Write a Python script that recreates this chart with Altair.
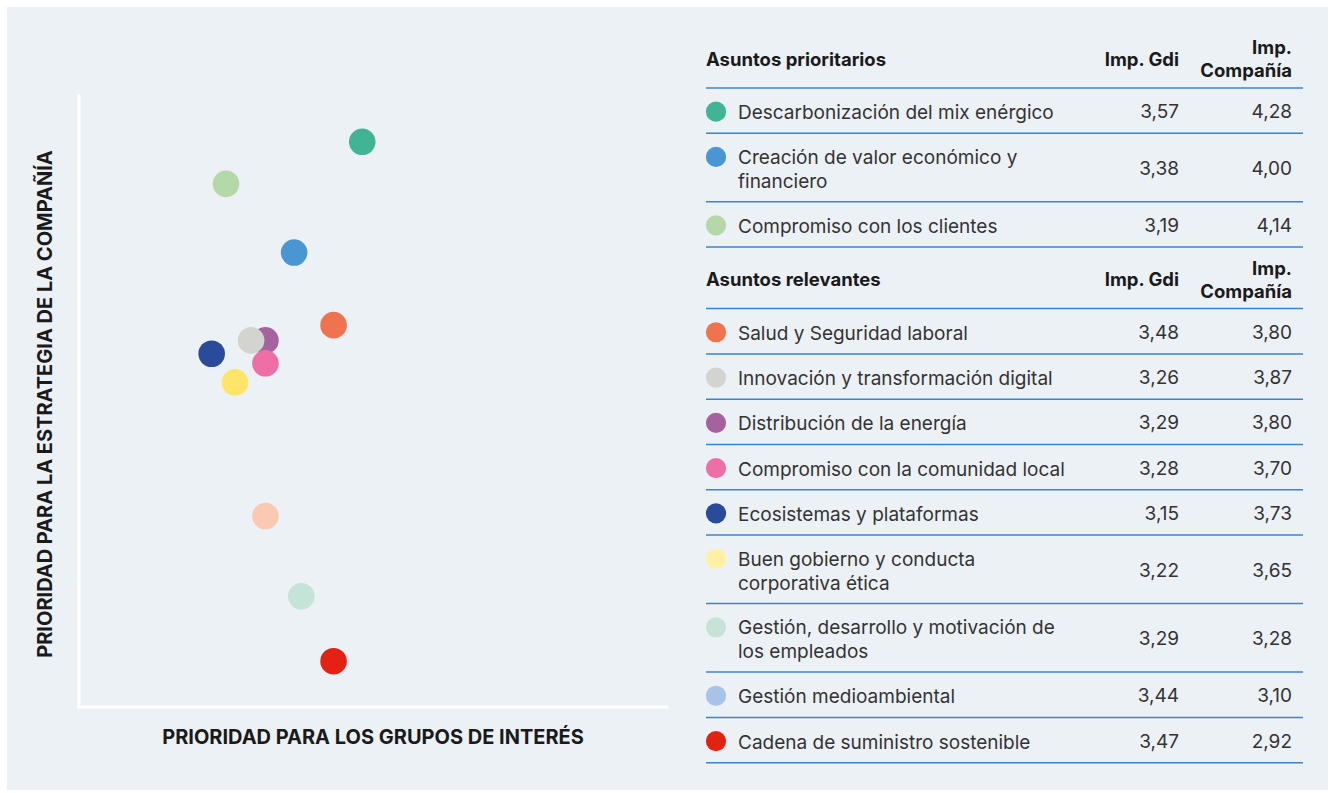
import altair as alt
import pandas as pd

# ---------------- Scatter ----------------
scatter_names = [
    "Descarbonización del mix enérgico", "Compromiso con los clientes",
    "Creación de valor económico y financiero", "Salud y Seguridad laboral",
    "Distribución de la energía", "Innovación y transformación digital",
    "Compromiso con la comunidad local", "Ecosistemas y plataformas",
    "Buen gobierno y conducta corporativa ética",
    "Gestión, desarrollo y motivación de los empleados",
    "Gestión medioambiental", "Cadena de suministro sostenible",
]
scatter_gdi = [3.57, 3.19, 3.38, 3.49, 3.30, 3.26, 3.30, 3.15, 3.215, 3.30, 3.40, 3.49]
scatter_comp = [4.28, 4.17, 3.99, 3.80, 3.76, 3.76, 3.70, 3.725, 3.65, 3.30, 3.09, 2.92]
scatter_colors = ["#41B495", "#B5D8A8", "#4A96D2", "#EF734F", "#A5629E", "#D3D3CF",
                  "#EE6FA6", "#2A4B9A", "#FFE567", "#FBC8B2", "#C6E3D7", "#E32213"]

# ---------------- Table ----------------
section_titles = ["Asuntos prioritarios", "Asuntos relevantes"]
col_gdi_title = "Imp. Gdi"
col_comp_title = "Imp.\nCompañía"

sec1_names = ["Descarbonización del mix enérgico",
              "Creación de valor económico y\nfinanciero",
              "Compromiso con los clientes"]
sec1_gdi = ["3,57", "3,38", "3,19"]
sec1_comp = ["4,28", "4,00", "4,14"]
sec1_colors = ["#41B495", "#4A96D2", "#B5D8A8"]

sec2_names = ["Salud y Seguridad laboral",
              "Innovación y transformación digital",
              "Distribución de la energía",
              "Compromiso con la comunidad local",
              "Ecosistemas y plataformas",
              "Buen gobierno y conducta\ncorporativa ética",
              "Gestión, desarrollo y motivación de\nlos empleados",
              "Gestión medioambiental",
              "Cadena de suministro sostenible"]
sec2_gdi = ["3,48", "3,26", "3,29", "3,28", "3,15", "3,22", "3,29", "3,44", "3,47"]
sec2_comp = ["3,80", "3,87", "3,80", "3,70", "3,73", "3,65", "3,28", "3,10", "2,92"]
sec2_colors = ["#EF734F", "#D3D3CF", "#A5629E", "#EE6FA6", "#2A4B9A",
               "#FFF0A3", "#C6E3D7", "#A7C4E8", "#E32213"]

x_title = "PRIORIDAD PARA LOS GRUPOS DE INTERÉS"
y_title = "PRIORIDAD PARA LA ESTRATEGIA DE LA COMPAÑÍA"

# ---------------- Layout constants ----------------
W, H = 1321, 783
BG = "#ECF1F6"
FONT = "Inter"
TXT = "#333333"
DARK = "#1A1A1A"
LINE = "#3A84C9"
BODY_FS = 19
HEAD_FS = 18.5
TITLE_FS = 20

X_DOM = [2.78, 4.42]
Y_DOM = [2.8, 4.4]
xs = alt.Scale(domain=X_DOM, range=[72, 660])
ys = alt.Scale(domain=Y_DOM, range=[700, 89])

TABLE_TOP = 19.5
HEADER_H = 61.5
ROW_H = 45.3
LINE_GAP = 23.2
TXT_DY = 2.5
TX_CIRCLE, TX_TEXT, TX_GDI, TX_COMP = 709, 731, 1172, 1285
TX_L0, TX_L1 = 699, 1296

# build table layout from the arrays
headers, rows, lines = [], [], []
y = TABLE_TOP
for title, names, gdi, comp, cols in [
    (section_titles[0], sec1_names, sec1_gdi, sec1_comp, sec1_colors),
    (section_titles[1], sec2_names, sec2_gdi, sec2_comp, sec2_colors),
]:
    yc = y + HEADER_H / 2
    headers.append({"t": title, "g": col_gdi_title, "c": col_comp_title,
                    "yc": yc + TXT_DY, "yc2": yc + TXT_DY - 23 / 2})
    y += HEADER_H
    lines.append({"ly": y})
    for n, g, c, col in zip(names, gdi, comp, cols):
        nl = n.count("\n") + 1
        h = ROW_H + (nl - 1) * LINE_GAP
        yc = y + h / 2
        rows.append({"name": n, "gdi": g, "comp": c, "color": col,
                     "yv": yc + TXT_DY - 1,
                     "ytxt": yc + TXT_DY - (nl - 1) * 24 / 2,
                     "ycirc": yc + 1 - (nl - 1) * LINE_GAP / 2})
        y += h
        lines.append({"ly": y})

hdf = pd.DataFrame(headers)
rdf = pd.DataFrame(rows)
ldf = pd.DataFrame(lines)
tys = alt.Scale(domain=[0, H], range=[0, H])

sdf = pd.DataFrame({"name": scatter_names, "gdi": scatter_gdi, "comp": scatter_comp,
                    "color": scatter_colors})
axdf = pd.DataFrame({"x0": [X_DOM[0], X_DOM[0]], "x1": [X_DOM[0], X_DOM[1]],
                     "y0": [Y_DOM[0], Y_DOM[0]], "y1": [Y_DOM[1], Y_DOM[0]]})

axes_lines = alt.Chart(axdf).mark_rule(color="white", strokeWidth=3, strokeCap="square").encode(
    x=alt.X("x0:Q", scale=xs, axis=None), x2="x1:Q",
    y=alt.Y("y0:Q", scale=ys, axis=None), y2="y1:Q")

points = alt.Chart(sdf).mark_circle(size=707, opacity=1).encode(
    x=alt.X("gdi:Q", scale=xs, axis=None),
    y=alt.Y("comp:Q", scale=ys, axis=None),
    color=alt.Color("color:N", scale=None),
    tooltip=["name:N", "gdi:Q", "comp:Q"])

xt = alt.Chart(pd.DataFrame({"t": [x_title]})).mark_text(
    font=FONT, fontSize=TITLE_FS, fontWeight="bold", color=DARK, align="center", baseline="middle"
).encode(text="t:N", x=alt.value(366), y=alt.value(731))

yt = alt.Chart(pd.DataFrame({"t": [y_title]})).mark_text(
    font=FONT, fontSize=TITLE_FS, fontWeight="bold", color=DARK, align="center", baseline="middle", angle=270
).encode(text="t:N", x=alt.value(39), y=alt.value(397))

tlines = alt.Chart(ldf).mark_rule(color=LINE, strokeWidth=1.5).encode(
    y=alt.Y("ly:Q", scale=tys, axis=None), x=alt.value(TX_L0), x2=alt.value(TX_L1))

h_title = alt.Chart(hdf).mark_text(font=FONT, fontSize=HEAD_FS, fontWeight="bold", color=DARK,
                                   align="left", baseline="middle").encode(
    text="t:N", x=alt.value(TX_CIRCLE - 10), y=alt.Y("yc:Q", scale=tys, axis=None))
h_gdi = alt.Chart(hdf).mark_text(font=FONT, fontSize=HEAD_FS, fontWeight="bold", color=DARK,
                                 align="right", baseline="middle").encode(
    text="g:N", x=alt.value(TX_GDI), y=alt.Y("yc:Q", scale=tys, axis=None))
h_comp = alt.Chart(hdf).mark_text(font=FONT, fontSize=HEAD_FS, fontWeight="bold", color=DARK,
                                  align="right", baseline="middle", lineBreak="\n", lineHeight=23).encode(
    text="c:N", x=alt.value(TX_COMP), y=alt.Y("yc2:Q", scale=tys, axis=None))

r_circ = alt.Chart(rdf).mark_circle(size=410, opacity=1).encode(
    x=alt.value(TX_CIRCLE), y=alt.Y("ycirc:Q", scale=tys, axis=None),
    color=alt.Color("color:N", scale=None))
r_name = alt.Chart(rdf).mark_text(font=FONT, fontSize=BODY_FS, color=TXT, align="left",
                                  baseline="middle", lineBreak="\n", lineHeight=24).encode(
    text="name:N", x=alt.value(TX_TEXT), y=alt.Y("ytxt:Q", scale=tys, axis=None))
r_gdi = alt.Chart(rdf).mark_text(font=FONT, fontSize=BODY_FS, color=TXT, align="right",
                                 baseline="middle").encode(
    text="gdi:N", x=alt.value(TX_GDI), y=alt.Y("yv:Q", scale=tys, axis=None))
r_comp = alt.Chart(rdf).mark_text(font=FONT, fontSize=BODY_FS, color=TXT, align="right",
                                  baseline="middle").encode(
    text="comp:N", x=alt.value(TX_COMP), y=alt.Y("yv:Q", scale=tys, axis=None))

chart = alt.layer(
    axes_lines, points, xt, yt, tlines, h_title, h_gdi, h_comp, r_circ, r_name, r_gdi, r_comp
).resolve_scale(x="independent", y="independent", color="independent").properties(
    width=W, height=H,
    padding={"left": 7, "top": 7, "right": 7, "bottom": 3},
    background="white",
).configure_view(fill=BG, strokeWidth=0)

chart.save("out.html", embed_options={"renderer": "svg", "actions": False})
